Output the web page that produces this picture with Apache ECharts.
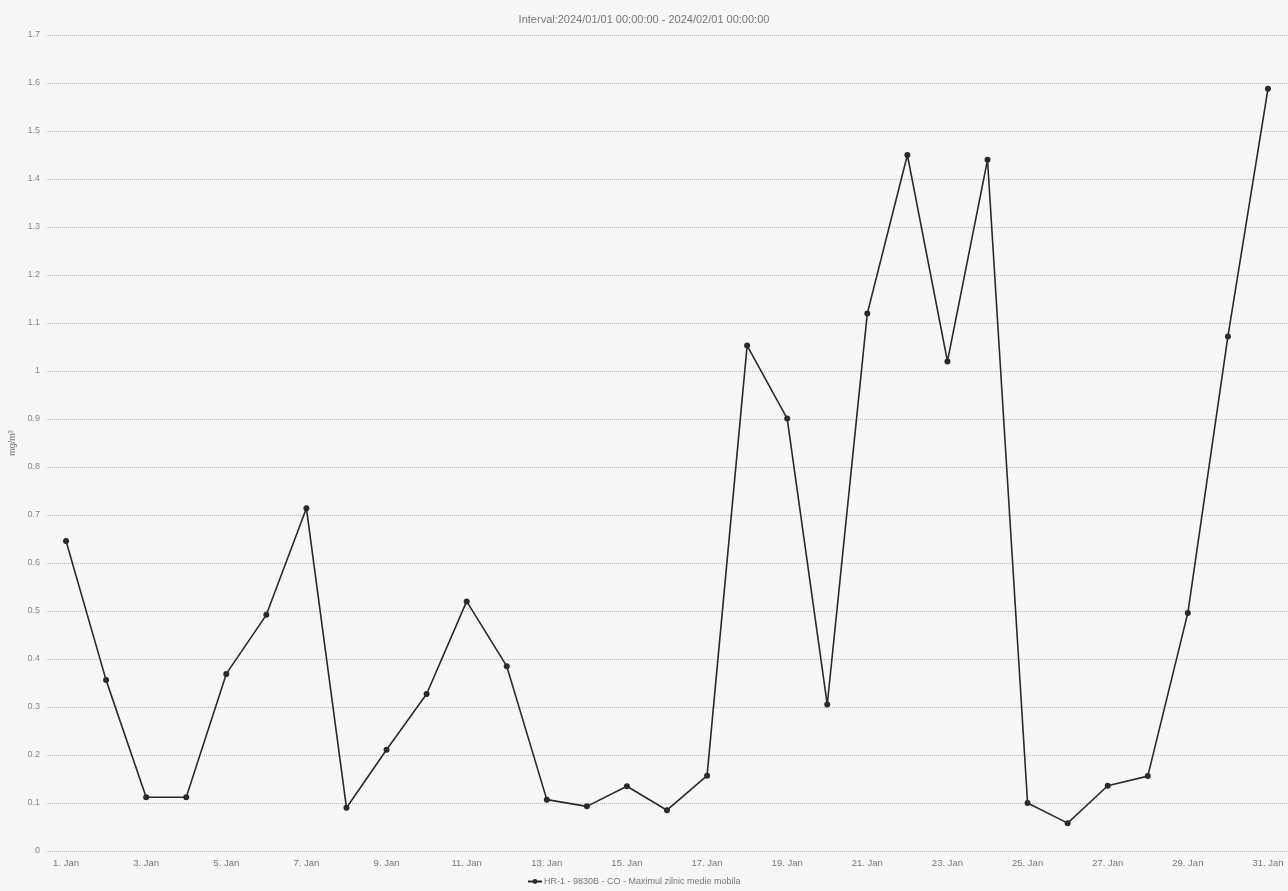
<!DOCTYPE html>
<html>
<head>
<meta charset="utf-8">
<script src="https://cdn.jsdelivr.net/npm/echarts@6/dist/echarts.min.js"></script>
<style>
html,body{margin:0;padding:0;background:#f7f7f7;}
#chart{width:1288px;height:891px;}
</style>
</head>
<body>
<div id="chart"></div>
<script>
const titleText = 'Interval:2024/01/01 00:00:00 - 2024/02/01 00:00:00';
const seriesName = 'HR-1 - 9830B - CO - Maximul zilnic medie mobila';
const unitName = 'mg/m³';
const categories = [];
for (let d = 1; d <= 31; d++) categories.push(d + '. Jan');
const coValues = [0.646, 0.356, 0.112, 0.112, 0.369, 0.492, 0.714, 0.090, 0.211, 0.327,
  0.520, 0.385, 0.107, 0.093, 0.135, 0.085, 0.157, 1.053, 0.901, 0.305,
  1.120, 1.450, 1.020, 1.440, 0.100, 0.058, 0.136, 0.156, 0.496, 1.072, 1.588];

const chart = echarts.init(document.getElementById('chart'));
chart.setOption({
  backgroundColor: '#f7f7f7',
  animation: false,
  title: {
    text: titleText, left: 'center', top: 9,
    textStyle: {fontSize: 11, fontWeight: 'normal', color: '#777', fontFamily: 'Liberation Sans'}
  },
  legend: {
    bottom: 0, left: 522, itemWidth: 14, itemHeight: 6, itemGap: 10,
    textStyle: {fontSize: 9, color: '#777', fontFamily: 'Liberation Sans', padding: [0, 0, 0, -3]},
    data: [seriesName]
  },
  grid: {left: 46, right: 0, top: 35, bottom: 40, containLabel: false, outerBoundsMode: 'none'},
  xAxis: {
    type: 'category', data: categories, boundaryGap: true,
    axisLine: {show: false}, axisTick: {show: false},
    axisLabel: {interval: 1, fontSize: 9.5, color: '#777', margin: 7, fontFamily: 'Liberation Sans'}
  },
  yAxis: {
    type: 'value', min: 0, max: 1.7, interval: 0.1,
    name: unitName, nameLocation: 'middle', nameGap: 28,
    nameTextStyle: {fontSize: 9, color: '#777', fontFamily: 'Liberation Sans'},
    axisLine: {show: false}, axisTick: {show: false},
    axisLabel: {fontSize: 9, color: '#888', margin: 6, fontFamily: 'Liberation Sans',
      formatter: v => String(Math.round(v * 10) / 10)},
    splitLine: {lineStyle: {color: '#bbb', type: 'dotted', width: 1}}
  },
  series: [{
    name: seriesName, type: 'line', data: coValues,
    symbol: 'circle', symbolSize: 6,
    lineStyle: {color: '#2a2a2a', width: 1.6},
    itemStyle: {color: '#2a2a2a'}
  }]
});
</script>
</body>
</html>
